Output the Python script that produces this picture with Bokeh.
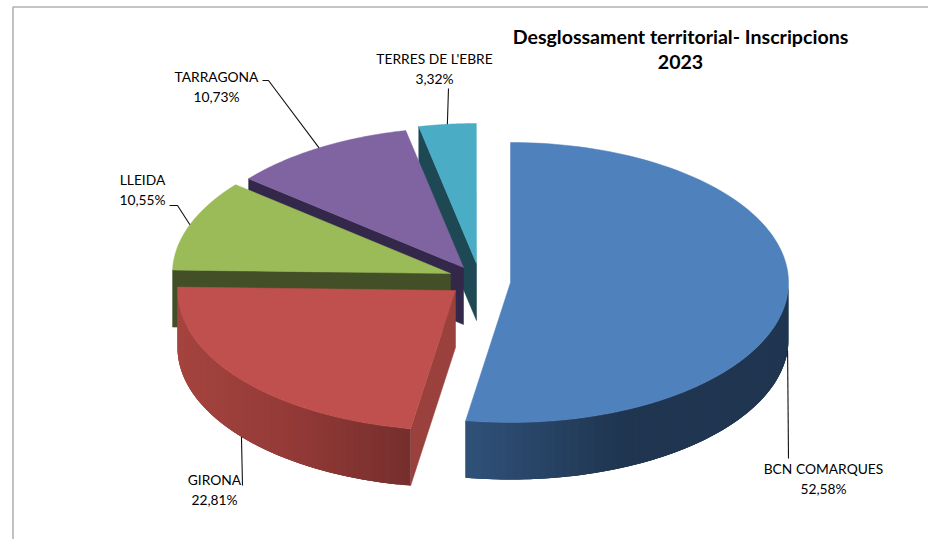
import numpy as np
from bokeh.plotting import figure
from bokeh.core.properties import value
from bokeh.embed import file_html
from bokeh.resources import INLINE

# ---- data ----
categories = ["BCN COMARQUES", "GIRONA", "LLEIDA", "TARRAGONA", "TERRES DE L'EBRE"]
shares = [52.58, 22.81, 10.55, 10.73, 3.32]
title_lines = ["Desglossament territorial- Inscripcions", "2023"]

# ---- style / layout ----
top_colors = ["#4f81bd", "#c0504d", "#9bbb59", "#8064a2", "#4bacc6"]
edge_colors = ["#1f3550", "#9a403d", "#434f26", "#33284a", "#1e4854"]
apex_x = [510, 455, 450, 463, 476]
apex_y = [282, 290, 273, 267, 263]
RX, RY, DEPTH = 278, 140, 57
wall_ramps = {0: ("#1f3550", "#1f3550", "#30527a"), 1: ("#a5443f", "#933a37", "#762f2d")}
label_xy = [(823, 468), (214, 479), (142, 179), (216, 76), (434, 58)]
leader_bend = [[(788, 458)], [(242, 485)], [(177, 205), (169, 205)], [(268, 80), (262, 80)], [(448, 88)]]
FONT = "Lato"


def hex2rgb(h):
    return np.array([int(h[i:i + 2], 16) for i in (1, 3, 5)], float)


def ramp(stops, t):
    t = t * (len(stops) - 1)
    i = min(int(t), len(stops) - 2)
    c = hex2rgb(stops[i]) * (1 - (t - i)) + hex2rgb(stops[i + 1]) * (t - i)
    return "#%02x%02x%02x" % tuple(int(round(v)) for v in c)


def pt(k, a):
    return apex_x[k] + RX * np.sin(a), apex_y[k] - RY * np.cos(a)


edges = np.radians(np.concatenate([[0], np.cumsum(shares)]) * 3.6)

p = figure(width=928, height=539, x_range=(0, 928), y_range=(539, 0), toolbar_location=None,
           output_backend="svg", min_border=0, margin=0)
p.axis.visible = False
p.grid.visible = False
p.outline_line_color = None
p.background_fill_color = "white"

# outer frame of the chart area
p.line([12.5, 12.5, 928], [539, 6.5, 6.5], line_color="#b2b2b2", line_width=1.6)

# slices, back to front
for k in [4, 3, 2, 1, 0]:
    a0, a1 = edges[k], edges[k + 1]
    x0, y0 = pt(k, a0)
    ax, ay = apex_x[k], apex_y[k]
    # radial wall of the starting edge
    if k > 0:
        p.patch([ax, x0, x0, ax], [ay, y0, y0 + DEPTH, ay + DEPTH], fill_color=edge_colors[k],
                line_color=edge_colors[k], line_width=0.5)
    # outer wall (front half of the rim only), painted as overlapping strips
    lo, hi = max(a0, np.pi / 2), min(a1, 3 * np.pi / 2)
    if hi > lo and k in wall_ramps:
        steps = np.linspace(lo, hi, 60)
        xs, ys, cs = [], [], []
        for i in range(len(steps) - 1):
            sub = np.linspace(steps[i], steps[min(i + 3, len(steps) - 1)], 5)
            xa, ya = pt(k, sub)
            xs.append(np.r_[xa, xa[::-1]])
            ys.append(np.r_[ya, ya[::-1] + DEPTH])
            if k == 1:
                t = (xa[0] - (apex_x[k] - RX)) / (RX * (1 + np.sin(a0)))
            else:
                t = (apex_x[k] + RX - xa[0]) / (RX * (1 - np.sin(a1)))
            cs.append(ramp(wall_ramps[k], float(np.clip(t, 0, 1))))
        p.patches(xs, ys, fill_color=cs, line_color=None)
    # top face
    arc = np.linspace(a0, a1, 120)
    tx, ty = pt(k, arc)
    p.patch(np.r_[ax, tx], np.r_[ay, ty], fill_color=top_colors[k], line_color=top_colors[k], line_width=0.5)

# leader lines start on the rim at each slice's mid angle
for k, bend in enumerate(leader_bend):
    mid = (edges[k] + edges[k + 1]) / 2
    sx, sy = pt(k, mid)
    if np.cos(mid) < 0 or k == 0:
        sy += DEPTH
    p.line([sx] + [b[0] for b in bend], [sy] + [b[1] for b in bend], line_color="#111111", line_width=1.1)

# labels
for k, (lx, ly) in enumerate(label_xy):
    txt = ("%.2f%%" % shares[k]).replace(".", ",")
    p.text([lx], [ly], text=[categories[k]], text_font=value(FONT), text_font_size="13.8px", text_color="#000000",
           text_align="center", text_baseline="middle")
    p.text([lx], [ly + 20], text=[txt], text_font=value(FONT), text_font_size="13.8px", text_color="#000000",
           text_align="center", text_baseline="middle")

# title
for line, ty in zip(title_lines, [36, 61]):
    p.text([680], [ty], text=[line], text_font=value(FONT), text_font_size="19.6px", text_font_style="bold",
           text_color="#000000", text_align="center", text_baseline="middle")

open("out.html", "w").write(file_html(p, INLINE))
